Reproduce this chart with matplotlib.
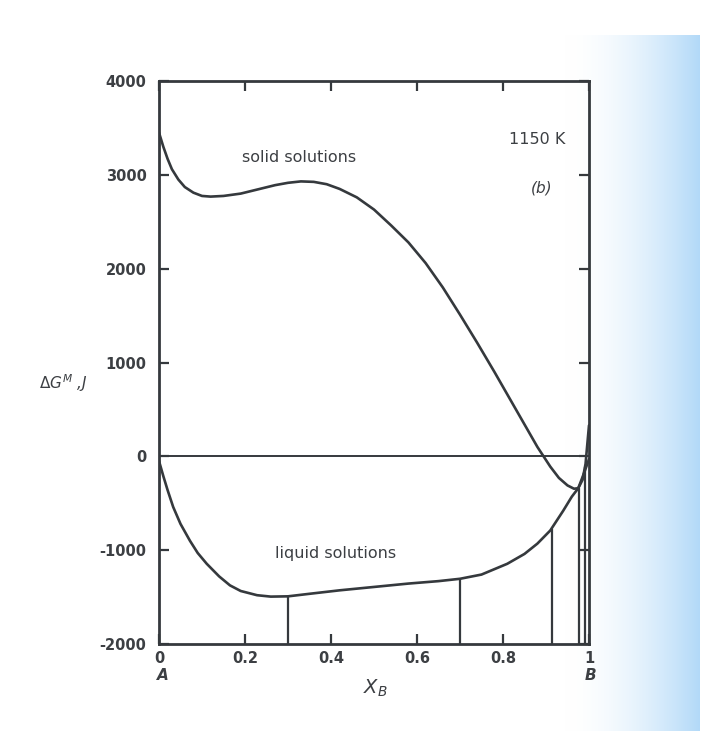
import matplotlib.pyplot as plt
import numpy as np

plt.rcParams['axes.unicode_minus'] = False

# free energy of mixing at 1150 K (J)
solid_x = [0, 0.01, 0.02, 0.03, 0.045, 0.06, 0.08, 0.10, 0.12, 0.15, 0.19, 0.23,
           0.27, 0.30, 0.33, 0.36, 0.39, 0.42, 0.46, 0.50, 0.54, 0.58, 0.62, 0.66,
           0.70, 0.74, 0.78, 0.82, 0.85, 0.88, 0.91, 0.93, 0.95, 0.965, 0.975,
           0.985, 0.992, 1.0]
solid_g = [3450, 3300, 3170, 3060, 2950, 2870, 2810, 2775, 2768, 2775, 2800, 2845,
           2890, 2915, 2930, 2925, 2900, 2850, 2760, 2630, 2460, 2280, 2060, 1800,
           1510, 1210, 900, 580, 340, 100, -110, -230, -310, -345, -340,
           -250, -80, 330]

liquid_x = [0, 0.01, 0.02, 0.033, 0.05, 0.072, 0.09, 0.111, 0.14, 0.165, 0.19,
            0.228, 0.26, 0.30, 0.35, 0.42, 0.50, 0.58, 0.65, 0.70, 0.75, 0.81,
            0.85, 0.88, 0.91, 0.94, 0.96, 0.975, 0.99, 1.0]
liquid_g = [-50, -210, -360, -540, -720, -900, -1030, -1145, -1280, -1375, -1435,
            -1480, -1495, -1492, -1465, -1428, -1392, -1356, -1330, -1305, -1260, -1145,
            -1040, -930, -790, -580, -430, -340, -160, -30]

# drop lines from the tangent points
tie_x = [0.30, 0.70, 0.915, 0.977, 0.99]
tie_top = [-1492, -1305, -770, -340, -110]

xticks = [0, 0.2, 0.4, 0.6, 0.8, 1]
xlabels = ['0', '0.2', '0.4', '0.6', '0.8', '1']
yticks = [-2000, -1000, 0, 1000, 2000, 3000, 4000]

ink = '#35393d'
tc = '#3c3f43'
lw = 1.9

fig = plt.figure(figsize=(7.03, 7.31), dpi=100)
fig.patch.set_facecolor('white')

# bluish scan tint on the right side
bg = fig.add_axes([565 / 703, 0, 135 / 703, (731 - 35) / 731], zorder=0)
ramp = np.linspace(0, 1, 200) ** 1.8
img = np.ones((2, 200, 3))
img[..., 0] = 1 - ramp * (1 - 178 / 255)
img[..., 1] = 1 - ramp * (1 - 217 / 255)
img[..., 2] = 1 - ramp * (1 - 248 / 255)
bg.imshow(img, aspect='auto', extent=[0, 1, 0, 1])
bg.axis('off')

ax = fig.add_axes([159 / 703, 1 - 644 / 731, 430 / 703, 563 / 731], zorder=1)
ax.patch.set_alpha(0)

ax.plot(solid_x, solid_g, color=ink, lw=lw, solid_capstyle='round')
ax.plot(liquid_x, liquid_g, color=ink, lw=lw, solid_capstyle='round')
ax.axhline(0, color=ink, lw=1.4)
ax.vlines(tie_x, -2000, tie_top, color=ink, lw=1.6)

ax.set_xlim(0, 1)
ax.set_ylim(-2000, 4000)
ax.set_xticks(xticks)
ax.set_xticklabels(xlabels)
ax.set_yticks(yticks)
ax.tick_params(direction='in', length=7, width=1.6, colors=ink,
               top=True, right=True, labelsize=10.5)
ax.tick_params(axis='y', pad=9)
ax.tick_params(axis='x', pad=5)
for lab in ax.get_xticklabels() + ax.get_yticklabels():
    lab.set_fontweight('bold')
    lab.set_color(tc)
for s in ax.spines.values():
    s.set_linewidth(2)
    s.set_color(ink)

ax.text(0.325, 3190, 'solid solutions', fontsize=11.5, color=tc, ha='center', va='center')
ax.text(0.41, -1040, 'liquid solutions', fontsize=11.5, color=tc, ha='center', va='center')
ax.text(0.88, 3380, '1150 K', fontsize=11.5, color=tc, ha='center', va='center')
ax.text(0.89, 2860, '(b)', fontsize=11, color=tc, ha='center', va='center', style='italic')

fig.text(63 / 703, 1 - 383 / 731, r'$\Delta G^{M}$ ,J', fontsize=11, color=tc,
         ha='center', va='center', style='italic')
fig.text(375 / 703, 1 - 688 / 731, r'$X_B$', fontsize=14, color=tc, ha='center', va='center')
fig.text(163 / 703, 1 - 676 / 731, 'A', fontsize=11, color=tc, ha='center', va='center',
         style='italic', fontweight='bold')
fig.text(590 / 703, 1 - 676 / 731, 'B', fontsize=11, color=tc, ha='center', va='center',
         style='italic', fontweight='bold')

fig.savefig('out.png', dpi=100)
